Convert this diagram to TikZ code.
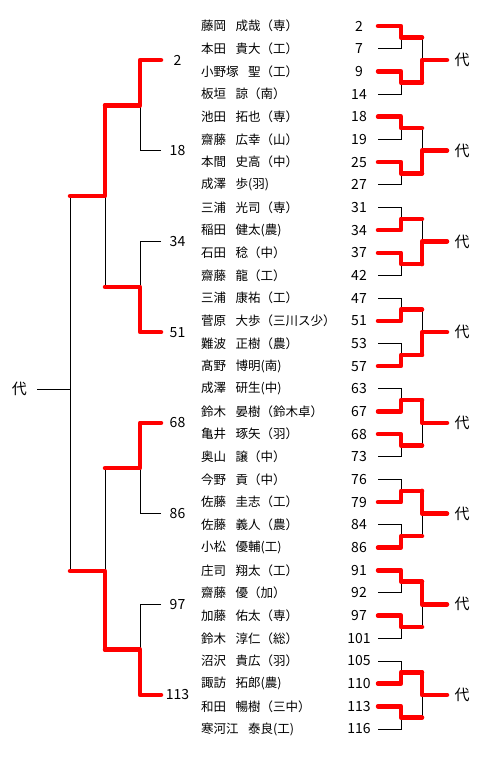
\documentclass[tikz,border=0pt]{standalone}
\usepackage{fontspec}
\setmainfont{Noto Sans CJK JP}
\usetikzlibrary{calc}
\newcommand\jsp{\hspace{0.75em}}
\tikzset{
  win/.style={red, line width=4.5pt, line cap=round, line join=round},
  lose/.style={black, line width=0.9pt},
  namelbl/.style={anchor=west, inner sep=0pt, font=\fontsize{12.5}{14}\selectfont},
  numlbl/.style={inner sep=0pt, font=\fontsize{14}{16}\selectfont},
  dai/.style={inner sep=0pt, font=\fontsize{15}{17}\selectfont}
}
\begin{document}
\begin{tikzpicture}[x=1pt,y=-1pt]
\useasboundingbox (0,0) rectangle (481,768);
% players
\foreach \nm/\no [count=\i] in {藤岡\jsp 成哉（専）/2, 本田\jsp 貴大（工）/7, 小野塚\jsp 聖（工）/9, 板垣\jsp 諒（南）/14,
  池田\jsp 拓也（専）/18, 齋藤\jsp 広幸（山）/19, 本間\jsp 史高（中）/25, 成澤\jsp 歩(羽)/27,
  三浦\jsp 光司（専）/31, 稲田\jsp 健太(農)/34, 石田\jsp 稔（中）/37, 齋藤\jsp 龍（工）/42,
  三浦\jsp 康祐（工）/47, 菅原\jsp 大歩（三川ス少）/51, 難波\jsp 正樹（農）/53, 髙野\jsp 博明(南)/57,
  成澤\jsp 研生(中)/63, 鈴木\jsp 晏樹（鈴木卓）/67, 亀井\jsp 琢矢（羽）/68, 奥山\jsp 譲（中）/73,
  今野\jsp 貢（中）/76, 佐藤\jsp 圭志（工）/79, 佐藤\jsp 義人（農）/84, 小松\jsp 優輔(工)/86,
  庄司\jsp 翔太（工）/91, 齋藤\jsp 優（加）/92, 加藤\jsp 佑太（専）/97, 鈴木\jsp 淳仁（総）/101,
  沼沢\jsp 貴広（羽）/105, 諏訪\jsp 拓郎(農)/110, 和田\jsp 暢樹（三中）/113, 寒河江\jsp 泰良(工)/116} {
  \pgfmathsetmacro\yy{26+22.677*(\i-1)}
  \node[namelbl] (nm\i) at (201,\yy) {\nm};
  \node[numlbl] (no\i) at (359,\yy) {\no};
  \coordinate (s\i) at (378,\yy);
  \coordinate (p\i) at (401,\yy);
}
% pair and block joints
\foreach \k in {1,...,16} {
  \pgfmathsetmacro\yy{26+22.677*(2*\k-2)+11.339}
  \coordinate (q\k) at (401,\yy);
  \coordinate (u\k) at (422,\yy);
}
\foreach \g/\v in {1/2, 2/18, 3/34, 4/51, 5/68, 6/86, 7/97, 8/113} {
  \pgfmathsetmacro\yy{26+22.677*(4*\g-4)+34.016}
  \coordinate (g\g) at (422,\yy);
  \coordinate (e\g) at (447,\yy);
  \node[dai] (dai\g) at (462,\yy) {代};
  \node[numlbl] (l\g) at (177.5,\yy) {\v};
  \coordinate (m\g) at (161,\yy);
  \coordinate (k\g) at (140,\yy);
}
% right brackets
\foreach \k in {1,...,16} {
  \pgfmathtruncatemacro\a{2*\k-1}
  \pgfmathtruncatemacro\b{2*\k}
  \draw[lose] (s\a) -- (p\a) -- (p\b) -- (s\b);
}
\foreach \g in {1,...,8} {
  \pgfmathtruncatemacro\a{2*\g-1}
  \pgfmathtruncatemacro\b{2*\g}
  \draw[lose] (u\a) -- (u\b);
}
\foreach \w/\k in {1/1, 3/2, 5/3, 7/4, 10/5, 11/6, 14/7, 16/8, 18/9, 19/10, 22/11, 24/12, 25/13, 27/14, 30/15, 31/16}
  \draw[win] (s\w) -- (p\w) -- (q\k) -- (u\k);
\foreach \k/\g in {2/1, 4/2, 6/3, 8/4, 9/5, 11/6, 13/7, 15/8}
  \draw[win] (u\k) -- (g\g) -- (e\g);
% left bracket
\foreach \g in {1,...,8}
  \draw[lose] (m\g) -- (k\g);
\foreach \h in {1,...,4} {
  \pgfmathtruncatemacro\a{2*\h-1}
  \pgfmathtruncatemacro\b{2*\h}
  \draw[lose] (k\a) -- (k\b);
  \coordinate (A\h) at ($(k\a)!.5!(k\b)$);
  \coordinate (B\h) at ($(A\h)+(-35,0)$);
}
\coordinate (C1) at (105,196);
\coordinate (D1) at (70,196);
\coordinate (C2) at (105,571);
\coordinate (D2) at (70,571);
\coordinate (E) at (70,389);
\coordinate (F) at (37,389);
\node[dai] (dai0) at (19.5,389) {代};
\draw[lose] (B1) -- (B2);
\draw[lose] (B3) -- (B4);
\draw[lose] (D1) -- (D2);
\draw[lose] (E) -- (F);
\foreach \g/\h in {1/1, 4/2, 5/3, 8/4}
  \draw[win] (m\g) -- (k\g) -- (A\h) -- (B\h);
\draw[win] (B1) -- (C1) -- (D1);
\draw[win] (B4) -- (C2) -- (D2);
\end{tikzpicture}
\end{document}
